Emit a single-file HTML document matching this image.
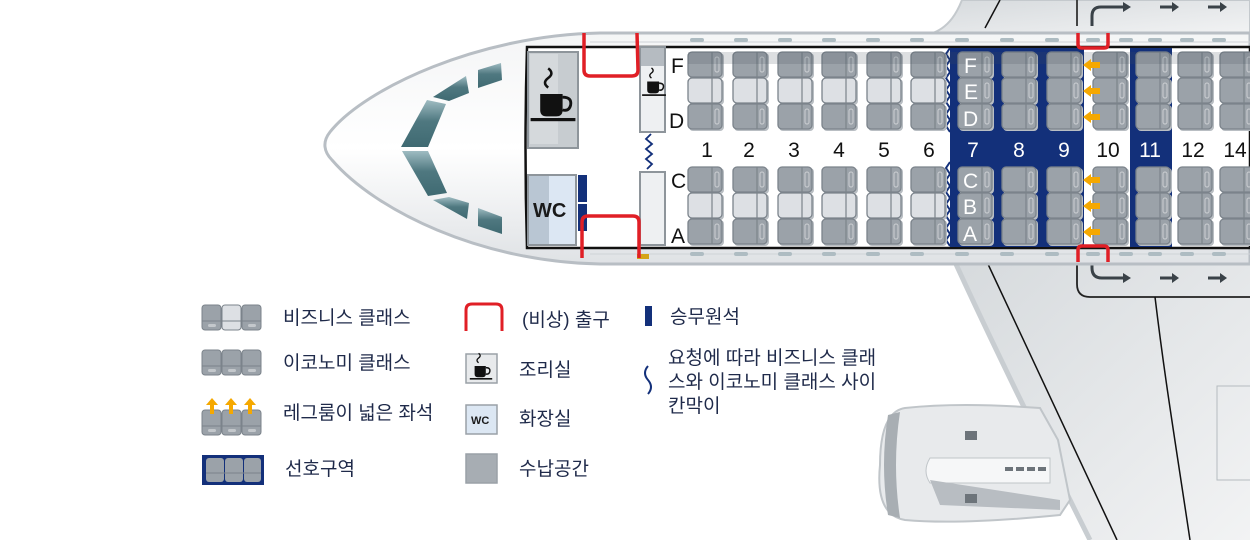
<!DOCTYPE html>
<html><head><meta charset="utf-8"><style>
html,body{margin:0;padding:0;background:#fff;width:1250px;height:540px;overflow:hidden}
svg{display:block}
.t{font-family:"Liberation Sans","Noto Sans CJK KR",sans-serif;font-size:19px;fill:#1f2a4a}
.n{font-family:"Liberation Sans",sans-serif;font-size:21px;fill:#111}
</style></head><body>
<svg width="1250" height="540" viewBox="0 0 1250 540" xmlns="http://www.w3.org/2000/svg">
<defs>
<linearGradient id="fus" x1="0" y1="0" x2="0" y2="1">
<stop offset="0" stop-color="#f4f5f6"/><stop offset="0.5" stop-color="#ffffff"/><stop offset="1" stop-color="#dfe2e5"/></linearGradient>
<linearGradient id="wing" x1="0" y1="0" x2="1" y2="1">
<stop offset="0" stop-color="#d6dadd"/><stop offset="1" stop-color="#f2f3f4"/></linearGradient>
<linearGradient id="win" x1="0" y1="0" x2="0" y2="1">
<stop offset="0" stop-color="#9fbcc2"/><stop offset="0.45" stop-color="#4f7880"/><stop offset="1" stop-color="#3f6a72"/></linearGradient>
<g id="s">
<rect x="1" y="1" width="35" height="26" rx="4" fill="#b9bec3"/>
<rect x="0" y="0" width="34" height="25" rx="4" fill="#9ba2a9" stroke="#7b838b" stroke-width="1.3"/>
<line x1="24" y1="0.5" x2="24" y2="24.5" stroke="#7b838b" stroke-width="1.2"/>
<rect x="27" y="5" width="4" height="15" rx="2" fill="none" stroke="#c4c8cc" stroke-width="1.2"/>
</g>
<g id="sl">
<rect x="1" y="1" width="35" height="26" rx="4" fill="#b9bec3"/>
<rect x="0" y="0" width="34" height="25" rx="4" fill="#dde0e4" stroke="#7b838b" stroke-width="1.3"/>
<line x1="24" y1="0.5" x2="24" y2="24.5" stroke="#7b838b" stroke-width="1.2"/>
</g>
<g id="eco">
<use href="#s" y="52"/><use href="#s" y="78"/><use href="#s" y="104"/>
<use href="#s" y="167"/><use href="#s" y="193"/><use href="#s" y="219"/>
</g>
<g id="bus">
<use href="#s" y="52"/><use href="#sl" y="78"/><use href="#s" y="104"/>
<use href="#s" y="167"/><use href="#sl" y="193"/><use href="#s" y="219"/>
</g>
<g id="cup">
<path d="M-3,-14 q-4,-3 0,-6 q4,-3 0,-6" fill="none" stroke="#111" stroke-width="1.6"/>
<path d="M-8,-10 h14 v10 q0,4 -4,4 h-6 q-4,0 -4,-4z" fill="#111"/>
<path d="M6,-8 q6,0 5,5 q-1,4 -5,3" fill="none" stroke="#111" stroke-width="1.8"/>
<rect x="-14" y="5" width="28" height="2" fill="#111"/>
</g>
<path id="arr" d="M0,0 l8,-6 v3 h9 v6 h-9 v3z" fill="#f5a800"/>
</defs>

<!-- upper wing -->
<path d="M930,34 C950,28 958,10 962,0 L1250,0 L1250,34 Z" fill="url(#wing)" stroke="#c4c9cd" stroke-width="2"/>
<line x1="985" y1="28" x2="1000" y2="0" stroke="#111" stroke-width="1.5"/>
<line x1="1077" y1="0" x2="1077" y2="26" stroke="#333" stroke-width="1.8"/>
<path d="M1092,26 v-10 q0,-9 9,-9 h22" fill="none" stroke="#3a4248" stroke-width="3"/>
<path d="M1123,2 l8,5 l-8,5z" fill="#3a4248"/>
<rect x="1160" y="5.5" width="12" height="3" fill="#3a4248"/><path d="M1172,2 l7,5 l-7,5z" fill="#3a4248"/>
<rect x="1208" y="5.5" width="12" height="3" fill="#3a4248"/><path d="M1220,2 l7,5 l-7,5z" fill="#3a4248"/>

<!-- lower wing -->
<path d="M955,262 L1250,262 L1250,540 L1090,540 C1050,460 1000,360 955,262Z" fill="url(#wing)"/>
<path d="M955,262 C1000,360 1050,460 1090,540" fill="none" stroke="#c8cdd1" stroke-width="5"/>
<line x1="987" y1="262" x2="1117" y2="540" stroke="#111" stroke-width="1.5"/>
<path d="M1077,262 v22 q0,13 13,13 h160" fill="none" stroke="#222" stroke-width="1.8"/>
<path d="M1092,262 v6 q0,10 10,10 h22" fill="none" stroke="#3a4248" stroke-width="3"/>
<path d="M1123,273 l8,5 l-8,5z" fill="#3a4248"/>
<rect x="1160" y="276.5" width="12" height="3" fill="#3a4248"/><path d="M1172,273 l7,5 l-7,5z" fill="#3a4248"/>
<rect x="1208" y="276.5" width="12" height="3" fill="#3a4248"/><path d="M1220,273 l7,5 l-7,5z" fill="#3a4248"/>
<path d="M1155,297 C1165,380 1175,440 1190,540" fill="none" stroke="#111" stroke-width="1.5"/>
<rect x="1217" y="386" width="40" height="94" fill="none" stroke="#b5bbc0" stroke-width="1"/>

<!-- engine -->
<path d="M905,408 Q960,402 1040,408 L1058,440 L1070,500 L1060,515 Q960,525 905,520 Q875,515 880,465 Q880,412 905,408Z" fill="#e8eaec" stroke="#c0c5c9" stroke-width="2"/>
<path d="M888,415 Q880,465 888,515 L900,518 Q892,465 900,412Z" fill="#a8aeb3"/>
<path d="M930,458 h120 v25 h-120 q-8,-12 0,-25z" fill="#f6f7f8" stroke="#c0c5c9"/>
<path d="M930,480 L1060,500 L1060,510 L940,505Z" fill="#b8bdc2"/>
<rect x="965" y="431" width="12" height="9" fill="#6d747a"/><rect x="965" y="494" width="12" height="9" fill="#6d747a"/>
<rect x="1005" y="467" width="8" height="4" fill="#6d747a"/><rect x="1016" y="467" width="8" height="4" fill="#6d747a"/><rect x="1027" y="467" width="8" height="4" fill="#6d747a"/><rect x="1038" y="467" width="8" height="4" fill="#6d747a"/>

<!-- fuselage -->
<path d="M1250,33 L600,33 C480,35 365,88 330,132 C322,142 324,152 332,160 C375,210 480,262 600,264 L1250,264 Z" fill="url(#fus)" stroke="#b8bec4" stroke-width="3"/>
<line x1="590" y1="42" x2="1250" y2="42" stroke="#cfd3d7" stroke-width="1"/>
<line x1="590" y1="254" x2="1250" y2="254" stroke="#cfd3d7" stroke-width="1"/>
<g fill="#aebcc2">
<rect x="690" y="38" width="14" height="4" rx="2"/><rect x="734" y="38" width="14" height="4" rx="2"/><rect x="778" y="38" width="14" height="4" rx="2"/><rect x="822" y="38" width="14" height="4" rx="2"/><rect x="866" y="38" width="14" height="4" rx="2"/><rect x="910" y="38" width="14" height="4" rx="2"/><rect x="955" y="38" width="14" height="4" rx="2"/><rect x="1000" y="38" width="14" height="4" rx="2"/><rect x="1045" y="38" width="14" height="4" rx="2"/><rect x="1086" y="38" width="14" height="4" rx="2"/><rect x="1119" y="38" width="14" height="4" rx="2"/><rect x="1148" y="38" width="14" height="4" rx="2"/><rect x="1180" y="38" width="14" height="4" rx="2"/><rect x="1212" y="38" width="14" height="4" rx="2"/>
<rect x="690" y="252" width="14" height="4" rx="2"/><rect x="734" y="252" width="14" height="4" rx="2"/><rect x="778" y="252" width="14" height="4" rx="2"/><rect x="822" y="252" width="14" height="4" rx="2"/><rect x="866" y="252" width="14" height="4" rx="2"/><rect x="910" y="252" width="14" height="4" rx="2"/><rect x="955" y="252" width="14" height="4" rx="2"/><rect x="1000" y="252" width="14" height="4" rx="2"/><rect x="1045" y="252" width="14" height="4" rx="2"/><rect x="1086" y="252" width="14" height="4" rx="2"/><rect x="1119" y="252" width="14" height="4" rx="2"/><rect x="1148" y="252" width="14" height="4" rx="2"/><rect x="1180" y="252" width="14" height="4" rx="2"/><rect x="1212" y="252" width="14" height="4" rx="2"/>
</g>
<!-- cockpit windows -->
<g fill="url(#win)">
<path d="M401,147 L427,100 L446,104 L428,147Z"/>
<path d="M402,151 L428,151 L447,193 L428,196Z"/>
<path d="M433,97 L466,76 L469,93 L449,101Z"/>
<path d="M478,70 L501,63 L502,80 L478,88Z"/>
<path d="M433,200 L449,197 L469,203 L467,219Z"/>
<path d="M478,208 L502,217 L502,234 L478,226Z"/>
</g>

<!-- cabin -->
<path d="M527,47 L1250,47 L1250,248 L527,248 Q524,148 527,47Z" fill="#fff" stroke="#111" stroke-width="2.5"/>
<rect x="950" y="48" width="134" height="199" fill="#13307a"/>
<rect x="1130" y="48" width="42" height="199" fill="#13307a"/>
<path d="M950,48 l-4,6 l4,6 l-4,6 l4,6 l-4,6 l4,6 l-4,6 l4,6 l-4,6 l4,6 l-4,6 l4,6 l-4,6 l4,6" fill="none" stroke="#13307a" stroke-width="2"/>
<path d="M950,162 l-4,6 l4,6 l-4,6 l4,6 l-4,6 l4,6 l-4,6 l4,6 l-4,6 l4,6 l-4,6 l4,6 l-4,6 l4,6" fill="none" stroke="#13307a" stroke-width="2"/>

<!-- front galley & wc -->
<rect x="528" y="52" width="50" height="96" fill="#c7ccd0" stroke="#8e959b" stroke-width="2"/>
<rect x="530" y="54" width="28" height="90" fill="#d5d9dc"/>
<use href="#cup" transform="translate(553,110) scale(1.6)"/>
<rect x="528" y="175" width="48" height="70" fill="#dce7f3" stroke="#8e959b" stroke-width="2"/>
<rect x="529" y="176" width="20" height="68" fill="#b9c6d3"/>
<text x="533" y="217" style="font-family:'Liberation Sans',sans-serif;font-size:20px;font-weight:bold;fill:#1a1a1a">WC</text>
<rect x="578" y="175" width="9" height="27" fill="#13307a"/><rect x="578" y="204" width="9" height="27" fill="#13307a"/>
<rect x="640" y="47" width="25" height="85" fill="#eef0f2" stroke="#8e959b" stroke-width="2"/>
<rect x="641" y="48" width="23" height="18" fill="#b5bbc1"/>
<use href="#cup" transform="translate(654,90) scale(0.85)"/>
<rect x="640" y="172" width="25" height="73" fill="#eef0f2" stroke="#8e959b" stroke-width="2"/>
<path d="M651,134 l-5,5 l6,5 l-6,5 l6,5 l-6,5 l6,5 l-5,5" fill="none" stroke="#13307a" stroke-width="1.8"/>
<rect x="637" y="254" width="12" height="5" fill="#d4a417"/>

<!-- seats -->
<use href="#bus" x="688"/><use href="#bus" x="733"/><use href="#bus" x="778"/><use href="#bus" x="822"/><use href="#bus" x="867"/><use href="#bus" x="911"/>
<use href="#eco" x="958"/><use href="#eco" x="1002"/><use href="#eco" x="1047"/><use href="#eco" x="1093"/><use href="#eco" x="1136"/><use href="#eco" x="1178"/><use href="#eco" x="1220"/>
<rect x="688" y="52" width="562" height="12" fill="#45505a" opacity="0.18"/>

<use href="#arr" x="1083" y="65"/><use href="#arr" x="1083" y="91"/><use href="#arr" x="1083" y="117"/>
<use href="#arr" x="1083" y="180"/><use href="#arr" x="1083" y="206"/><use href="#arr" x="1083" y="232"/>

<g fill="none" stroke="#e01f26" stroke-width="3.5" stroke-linejoin="round">
<path d="M584,33 L584,70 Q584,76 590,76 L632,76 Q638,76 638,70 L637,33"/>
<path d="M582,258 L582,222 Q582,216 588,216 L633,216 Q639,216 639,222 L639,258"/>
<path d="M1078,33 v11 q0,4 4,4 h22 q4,0 4,-4 v-11"/>
<path d="M1078,262 v-12 q0,-4 4,-4 h22 q4,0 4,4 v12"/>
</g>

<g class="n">
<text x="671" y="73">F</text><text x="669" y="128">D</text><text x="671" y="188">C</text><text x="671" y="243">A</text>
</g>
<g class="n" style="fill:#fff">
<text x="964" y="73">F</text><text x="964" y="99">E</text><text x="963" y="126">D</text>
<text x="963" y="188">C</text><text x="963" y="214">B</text><text x="963" y="241">A</text>
</g>
<g class="n" text-anchor="middle">
<text x="707" y="157">1</text><text x="749" y="157">2</text><text x="794" y="157">3</text><text x="839" y="157">4</text><text x="884" y="157">5</text><text x="929" y="157">6</text>
<text x="973" y="157" style="fill:#fff">7</text><text x="1019" y="157" style="fill:#fff">8</text><text x="1064" y="157" style="fill:#fff">9</text>
<text x="1108" y="157">10</text><text x="1150" y="157" style="fill:#fff">11</text><text x="1193" y="157">12</text><text x="1235" y="157">14</text>
</g>

<!-- legend -->
<g transform="translate(202,305)">
<rect x="0" y="0" width="19" height="25" rx="3" fill="#9ba2a9" stroke="#7b838b"/><rect x="20" y="0" width="19" height="25" rx="3" fill="#dde0e4" stroke="#7b838b"/><rect x="40" y="0" width="19" height="25" rx="3" fill="#9ba2a9" stroke="#7b838b"/>
<line x1="0" y1="16" x2="59" y2="16" stroke="#7b838b"/>
<rect x="6" y="19" width="8" height="3" rx="1.5" fill="#c4c8cc"/><rect x="46" y="19" width="8" height="3" rx="1.5" fill="#c4c8cc"/>
</g>
<g transform="translate(202,350)">
<rect x="0" y="0" width="19" height="25" rx="3" fill="#9ba2a9" stroke="#7b838b"/><rect x="20" y="0" width="19" height="25" rx="3" fill="#9ba2a9" stroke="#7b838b"/><rect x="40" y="0" width="19" height="25" rx="3" fill="#9ba2a9" stroke="#7b838b"/>
<line x1="0" y1="16" x2="59" y2="16" stroke="#7b838b"/>
<rect x="6" y="19" width="8" height="3" rx="1.5" fill="#c4c8cc"/><rect x="26" y="19" width="8" height="3" rx="1.5" fill="#c4c8cc"/><rect x="46" y="19" width="8" height="3" rx="1.5" fill="#c4c8cc"/>
</g>
<g transform="translate(202,410)">
<rect x="0" y="0" width="19" height="25" rx="3" fill="#9ba2a9" stroke="#7b838b"/><rect x="20" y="0" width="19" height="25" rx="3" fill="#9ba2a9" stroke="#7b838b"/><rect x="40" y="0" width="19" height="25" rx="3" fill="#9ba2a9" stroke="#7b838b"/>
<line x1="0" y1="16" x2="59" y2="16" stroke="#7b838b"/>
<rect x="6" y="19" width="8" height="3" rx="1.5" fill="#c4c8cc"/><rect x="26" y="19" width="8" height="3" rx="1.5" fill="#c4c8cc"/><rect x="46" y="19" width="8" height="3" rx="1.5" fill="#c4c8cc"/>
<g fill="#f5a800"><path d="M10,-12 l-6,7 h4 v9 h4 v-9 h4z"/><path d="M29,-12 l-6,7 h4 v9 h4 v-9 h4z"/><path d="M48,-12 l-6,7 h4 v9 h4 v-9 h4z"/></g>
</g>
<g transform="translate(202,455)">
<rect x="0" y="0" width="62" height="30" fill="#13307a"/>
<rect x="4" y="3" width="18" height="24" rx="3" fill="#9ba2a9"/><rect x="23" y="3" width="18" height="24" rx="3" fill="#9ba2a9"/><rect x="42" y="3" width="17" height="24" rx="3" fill="#9ba2a9"/>
<line x1="4" y1="18" x2="59" y2="18" stroke="#7b838b"/>
</g>
<g class="t">
<text x="283" y="324">비즈니스 클래스</text>
<text x="283" y="369">이코노미 클래스</text>
<text x="283" y="419">레그룸이 넓은 좌석</text>
<text x="285" y="475">선호구역</text>
<text x="522" y="326">(비상) 출구</text>
<text x="519" y="376">조리실</text>
<text x="519" y="425">화장실</text>
<text x="519" y="475">수납공간</text>
<text x="670" y="323">승무원석</text>
<text x="668" y="364">요청에 따라 비즈니스 클래</text>
<text x="668" y="388">스와 이코노미 클래스 사이</text>
<text x="668" y="412">칸막이</text>
</g>
<path d="M466,331 V310 q0,-6 6,-6 h24 q6,0 6,6 V331" fill="none" stroke="#e01f26" stroke-width="3"/>
<rect x="466" y="354" width="31" height="29" fill="#e8eaec" stroke="#9aa1a7" stroke-width="1.5"/>
<use href="#cup" transform="translate(481,374) scale(0.8)"/>
<rect x="466" y="405" width="31" height="29" fill="#dce7f3" stroke="#9aa1a7" stroke-width="1.5"/>
<text x="471" y="424" style="font-family:'Liberation Sans',sans-serif;font-size:11px;font-weight:bold;fill:#1a1a1a">WC</text>
<rect x="466" y="454" width="31" height="29" fill="#a7adb3" stroke="#9aa1a7" stroke-width="1.5"/>
<rect x="645" y="306" width="7" height="20" fill="#13307a"/>
<path d="M648,366 q-6,7 0,14 q6,7 0,14" fill="none" stroke="#13307a" stroke-width="2"/>
</svg>
</body></html>
